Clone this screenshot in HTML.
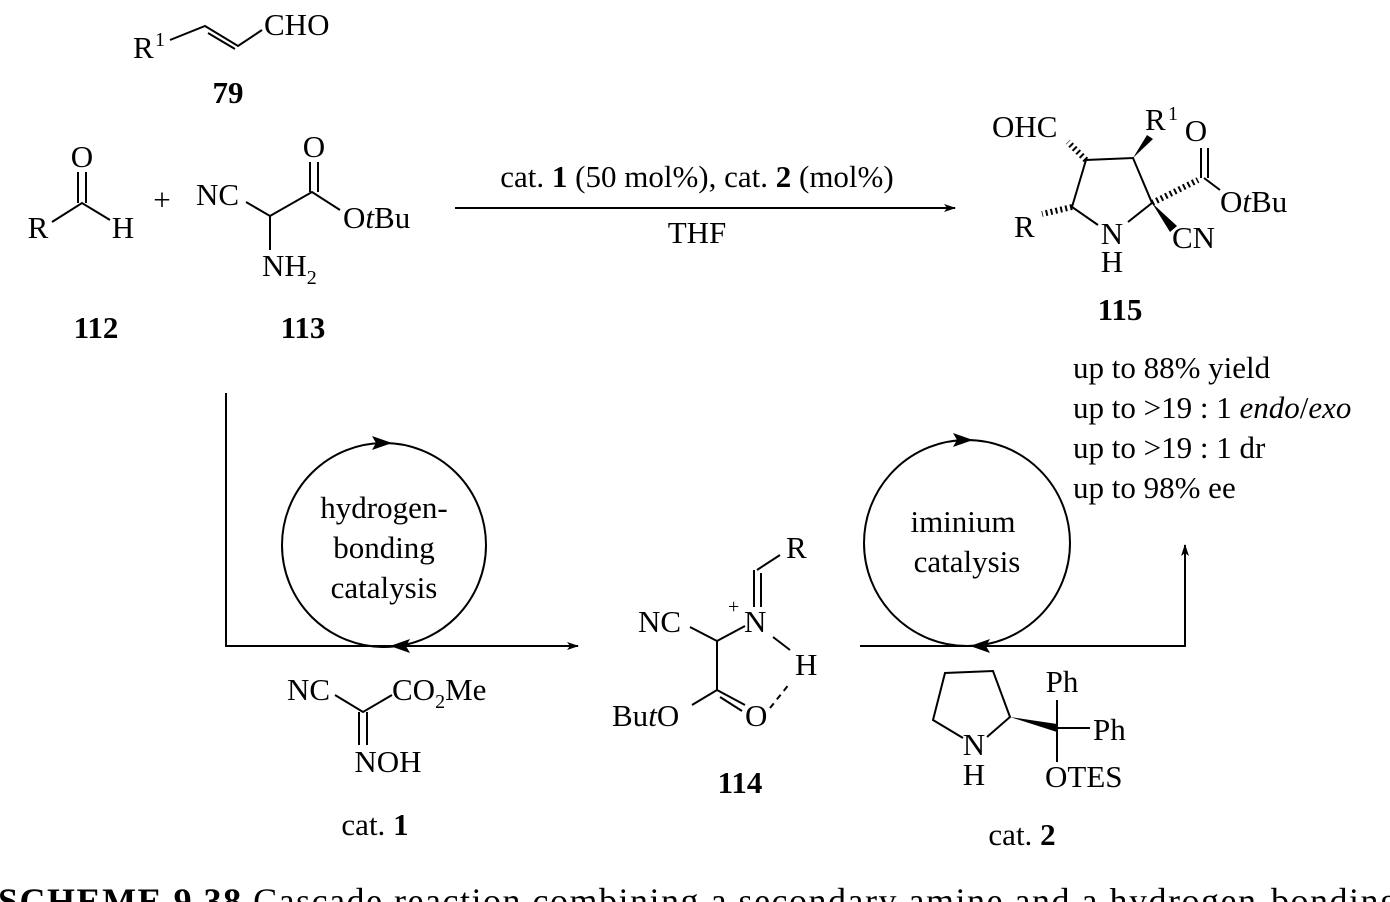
<!DOCTYPE html>
<html><head><style>body{margin:0;background:#fff}svg{display:block}</style></head><body>
<svg width="1390" height="902" viewBox="0 0 1390 902" xmlns="http://www.w3.org/2000/svg" font-family="Liberation Serif, serif" font-size="31" fill="#000">
<defs><marker id="a" markerWidth="12" markerHeight="8" refX="11" refY="4" orient="auto" markerUnits="userSpaceOnUse"><path d="M0,0 L12,4 L0,8 L3,4Z"/></marker></defs>
<g stroke="#000" stroke-width="2" fill="none">
<polyline points="170,40 205,26 238,46 262,30"/><line x1="208" y1="33" x2="235" y2="49"/>
<polyline points="52,222 82,203 110,220"/><line x1="78" y1="172" x2="78" y2="203"/><line x1="86" y1="172" x2="86" y2="203"/>
<polyline points="246,202 270,216 312,192 340,210"/><line x1="310" y1="162" x2="310" y2="192"/><line x1="318" y1="162" x2="318" y2="192"/><line x1="270" y1="216" x2="270" y2="250"/>
<line x1="455" y1="208" x2="955" y2="208" marker-end="url(#a)"/>
<polyline points="1098,225 1072,207 1086,160 1133,158 1152,203 1128,222"/>
<line x1="1201" y1="148" x2="1201" y2="178"/><line x1="1208" y1="148" x2="1208" y2="178"/><line x1="1204" y1="178" x2="1220" y2="190"/>
<polyline points="226,393 226,646 578,646" marker-end="url(#a)"/>
<circle cx="384" cy="545" r="102"/>
<circle cx="967" cy="543" r="103"/>
<polyline points="860,646 1185,646 1185,545" marker-end="url(#a)"/>
<polyline points="335,695 363,712 392,695"/><line x1="359" y1="712" x2="359" y2="745"/><line x1="367" y1="712" x2="367" y2="745"/>
<polyline points="690,627 717,641 745,626"/><line x1="717" y1="641" x2="717" y2="690"/>
<line x1="754" y1="607" x2="754" y2="570"/><line x1="761" y1="607" x2="761" y2="573"/><line x1="757" y1="570" x2="780" y2="555"/>
<line x1="773" y1="637" x2="790" y2="650"/><line x1="717" y1="690" x2="692" y2="705"/><line x1="717" y1="690" x2="745" y2="705"/><line x1="720" y1="697" x2="742" y2="711"/>
<line x1="770" y1="708" x2="790" y2="683" stroke-dasharray="6,5"/>
<polyline points="963,738 933,720 945,673 993,671 1010,717 987,737"/>
<line x1="1057" y1="700" x2="1057" y2="762"/><line x1="1057" y1="728" x2="1090" y2="728"/>
</g>
<g stroke="#000" stroke-width="1.5">
<path d="M1086,160 L1068,142" stroke-dasharray="2,3" stroke-width="6"/>
<path d="M1072,207 L1042,214" stroke-dasharray="2,3" stroke-width="6"/>
<path d="M1152,203 L1198,180" stroke-dasharray="2,3" stroke-width="6"/>
</g>
<path d="M1133,158 L1147,135 L1153,139Z"/>
<path d="M1152,203 L1170,232 L1177,226Z"/>
<path d="M1010,717 L1057,724 L1057,732Z"/>
<path d="M372,436 L392,443 L372,450 L376,443Z"/><path d="M410,639 L390,646 L410,653 L406,646Z"/>
<path d="M953,433 L973,440 L953,447 L957,440Z"/><path d="M990,639 L970,646 L990,653 L986,646Z"/>
<text x="133" y="58">R</text><text x="155" y="46" font-size="20">1</text><text x="264" y="35">CHO</text>
<text x="228" y="103" text-anchor="middle" font-weight="bold">79</text>
<text x="82" y="167" text-anchor="middle">O</text><text x="38" y="238" text-anchor="middle">R</text><text x="123" y="238" text-anchor="middle">H</text>
<text x="162" y="210" text-anchor="middle">+</text>
<text x="196" y="205">NC</text><text x="314" y="157" text-anchor="middle">O</text><text x="343" y="228">O<tspan font-style="italic">t</tspan>Bu</text>
<text x="262" y="276">NH<tspan font-size="20" dy="8">2</tspan></text>
<text x="96" y="338" text-anchor="middle" font-weight="bold">112</text><text x="303" y="338" text-anchor="middle" font-weight="bold">113</text>
<text x="697" y="187" text-anchor="middle">cat. <tspan font-weight="bold">1</tspan> (50 mol%), cat. <tspan font-weight="bold">2</tspan> (mol%)</text>
<text x="697" y="243" text-anchor="middle">THF</text>
<text x="992" y="137">OHC</text><text x="1145" y="130">R</text><text x="1168" y="120" font-size="20">1</text>
<text x="1196" y="141" text-anchor="middle">O</text><text x="1220" y="212">O<tspan font-style="italic">t</tspan>Bu</text>
<text x="1014" y="237">R</text><text x="1112" y="244" text-anchor="middle">N</text><text x="1112" y="272" text-anchor="middle">H</text><text x="1172" y="248">CN</text>
<text x="1120" y="320" text-anchor="middle" font-weight="bold">115</text>
<text x="1073" y="378">up to 88% yield</text>
<text x="1073" y="418">up to &gt;19 : 1 <tspan font-style="italic">endo</tspan>/<tspan font-style="italic">exo</tspan></text>
<text x="1073" y="458">up to &gt;19 : 1 dr</text>
<text x="1073" y="498">up to 98% ee</text>
<text x="384" y="518" text-anchor="middle">hydrogen-</text><text x="384" y="558" text-anchor="middle">bonding</text><text x="384" y="598" text-anchor="middle">catalysis</text>
<text x="963" y="532" text-anchor="middle">iminium</text><text x="967" y="572" text-anchor="middle">catalysis</text>
<text x="287" y="700">NC</text><text x="392" y="700">CO<tspan font-size="20" dy="8">2</tspan><tspan dy="-8">Me</tspan></text>
<text x="388" y="772" text-anchor="middle">NOH</text><text x="375" y="835" text-anchor="middle">cat. <tspan font-weight="bold">1</tspan></text>
<text x="638" y="632">NC</text><text x="744" y="632">N</text><text x="728" y="613" font-size="20">+</text><text x="786" y="558">R</text>
<text x="795" y="675">H</text><text x="612" y="726">Bu<tspan font-style="italic">t</tspan>O</text><text x="745" y="726">O</text>
<text x="740" y="793" text-anchor="middle" font-weight="bold">114</text>
<text x="1062" y="692" text-anchor="middle">Ph</text><text x="1093" y="740">Ph</text><text x="1045" y="787">OTES</text>
<text x="974" y="755" text-anchor="middle">N</text><text x="974" y="785" text-anchor="middle">H</text>
<text x="1022" y="845" text-anchor="middle">cat. <tspan font-weight="bold">2</tspan></text>
<text x="-2" y="913" font-size="36" textLength="1400" lengthAdjust="spacing"><tspan font-weight="bold">SCHEME 9.38</tspan>   Cascade reaction combining a secondary amine and a hydrogen-bonding</text>
</svg>
</body></html>
